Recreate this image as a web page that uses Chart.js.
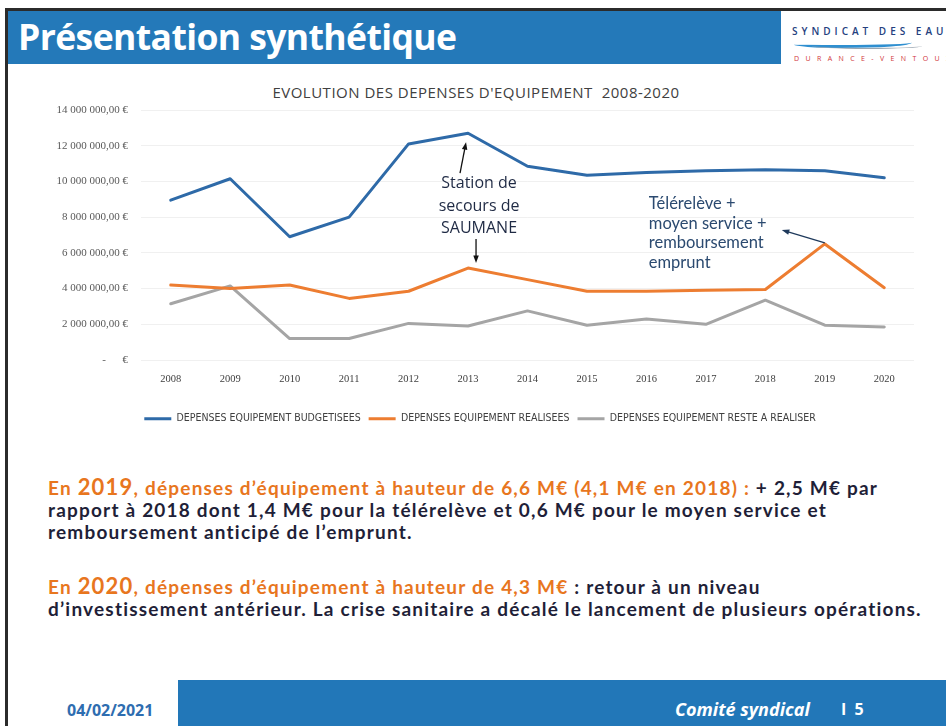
<!DOCTYPE html>
<html lang="fr">
<head>
<meta charset="utf-8">
<script src="https://cdn.jsdelivr.net/npm/chart.js@4.4.1/dist/chart.umd.min.js"></script>
<style>
    html, body { margin: 0; padding: 0; background: #fff; }
    body { width: 946px; height: 726px; position: relative; overflow: hidden; font-family: 'Open Sans', sans-serif; }
    .frame-top { position: absolute; left: 5px; top: 8px; width: 941px; height: 3px; background: #2b2b2b; }
    .frame-left { position: absolute; left: 5px; top: 8px; width: 3px; height: 718px; background: #2b2b2b; }
    .header { position: absolute; left: 8px; top: 11px; width: 773px; height: 53px; background: #2479b9; }
    .header h1 { margin: 0; position: absolute; left: 10px; top: 1px; color: #fff; font-size: 35.5px; font-weight: 700; letter-spacing: -0.6px; }
    .logo { position: absolute; left: 792px; top: 24px; width: 160px; height: 44px; }
    .logo .name { position: absolute; left: 0; top: 0; font-size: 10px; letter-spacing: 4px; color: #24407e; font-weight: 600; white-space: nowrap; }
    .logo .wave1 { position: absolute; left: 2px; top: 15px; width: 118px; height: 6px; border-bottom: 3px solid #2f8fd0; border-radius: 0 0 60% 40%; }
    .logo .wave2 { position: absolute; left: 20px; top: 19px; width: 110px; height: 5px; border-bottom: 1px solid #9aa5b0; border-radius: 0 0 50% 50%; }
    .logo .sub { position: absolute; left: 2px; top: 30px; font-size: 7px; letter-spacing: 6.4px; color: #d0363a; white-space: nowrap; }
    .chart-title { position: absolute; left: 226px; top: 82px; width: 500px; text-align: center; font-size: 15px; letter-spacing: 0.5px; color: #404040; white-space: nowrap; }
    #chartWrap { position: absolute; left: 0; top: 70px; width: 946px; height: 370px; }
    .para { position: absolute; left: 48px; font-family: 'Lato', sans-serif; font-weight: 700; font-size: 19px; letter-spacing: 1.2px; line-height: 22px; color: #1f1f38; white-space: nowrap; }
    .para .o { color: #e8761e; }
    .para .big { font-size: 22px; }
    .footer { position: absolute; left: 178px; top: 680px; width: 768px; height: 46px; background: #2277b8; }
    .date { position: absolute; left: 67px; top: 699px; font-size: 16px; font-weight: 700; color: #2e6db0; }
    .comite { position: absolute; left: 675px; top: 697px; font-size: 18px; font-style: italic; font-weight: 700; color: #fff; white-space: nowrap; }
    .page { position: absolute; left: 841px; top: 698px; font-size: 16px; font-weight: 700; color: #fff; white-space: nowrap; }
</style>
</head>
<body>
<div class="frame-top"></div>
<div class="frame-left"></div>
<div class="header"><h1>Présentation synthétique</h1></div>
<div class="logo">
    <div class="name">SYNDICAT DES EAUX</div>
    <div class="wave1"></div>
    <div class="wave2"></div>
    <div class="sub">DURANCE-VENTOUX</div>
</div>

<div class="chart-title">EVOLUTION DES DEPENSES D'EQUIPEMENT&nbsp; 2008-2020</div>
<div id="chartWrap"><canvas id="depensesChart" width="946" height="370"></canvas></div>

<div class="para" style="top:476px;">
    <span class="o">En <span class="big">2019</span>, dépenses d’équipement à hauteur de 6,6 M€ (4,1 M€ en 2018) :</span> + 2,5 M€ par<br>
    rapport à 2018 dont 1,4 M€ pour la télérelève et 0,6 M€ pour le moyen service et<br>
    remboursement anticipé de l’emprunt.
</div>
<div class="para" style="top:575px;">
    <span class="o">En <span class="big">2020</span>, dépenses d’équipement à hauteur de 4,3 M€</span> : retour à un niveau<br>
    d’investissement antérieur. La crise sanitaire a décalé le lancement de plusieurs opérations.
</div>

<div class="footer"></div>
<div class="date">04/02/2021</div>
<div class="comite">Comité syndical</div>
<div class="page">I&nbsp; 5</div>

<script>
// Chart data (euros)
const years = ['2008', '2009', '2010', '2011', '2012', '2013', '2014', '2015', '2016', '2017', '2018', '2019', '2020'];
const budgetisees = [8950000, 10150000, 6900000, 8000000, 12100000, 12700000, 10850000, 10350000, 10500000, 10600000, 10650000, 10600000, 10200000];
const realisees = [4200000, 4000000, 4200000, 3450000, 3850000, 5150000, 4500000, 3850000, 3850000, 3900000, 3950000, 6500000, 4050000];
const resteARealiser = [3150000, 4150000, 1200000, 1200000, 2050000, 1900000, 2750000, 1950000, 2300000, 2000000, 3350000, 1950000, 1850000];
const seriesLabels = ['DEPENSES EQUIPEMENT BUDGETISEES', 'DEPENSES EQUIPEMENT REALISEES', 'DEPENSES EQUIPEMENT RESTE A REALISER'];
const seriesColors = ['#2e6aa8', '#ed7d31', '#a5a5a5'];
const yMin = 0;
const yMax = 14000000;
const yStep = 2000000;

// Accounting style euro format
function formatEuro(v) {
    if (v === 0) return '-      €';
    const intPart = String(Math.round(v)).replace(/\B(?=(\d{3})+(?!\d))/g, ' ');
    return `${intPart},00 €`;
}

function drawArrow(ctx, x1, y1, x2, y2, color) {
    const angle = Math.atan2(y2 - y1, x2 - x1);
    const head = 8;
    ctx.strokeStyle = color;
    ctx.fillStyle = color;
    ctx.lineWidth = 1.3;
    ctx.beginPath();
    ctx.moveTo(x1, y1);
    ctx.lineTo(x2 - Math.cos(angle) * 4, y2 - Math.sin(angle) * 4);
    ctx.stroke();
    ctx.beginPath();
    ctx.moveTo(x2, y2);
    ctx.lineTo(x2 - head * Math.cos(angle - 0.35), y2 - head * Math.sin(angle - 0.35));
    ctx.lineTo(x2 - head * Math.cos(angle + 0.35), y2 - head * Math.sin(angle + 0.35));
    ctx.closePath();
    ctx.fill();
}

// Callouts pointing at 2013 and 2019
const calloutPlugin = {
    id: 'callouts',
    afterDatasetsDraw(chart) {
        const { ctx, scales: { x, y } } = chart;
        ctx.save();

        const x13 = x.getPixelForValue(5);
        const yBud13 = y.getPixelForValue(budgetisees[5]);
        const yReal13 = y.getPixelForValue(realisees[5]);
        ctx.font = '16px "Open Sans"';
        ctx.fillStyle = '#1f2a44';
        ctx.textAlign = 'center';
        ctx.textBaseline = 'middle';
        ctx.fillText('Station de', x13 + 11, yBud13 + 50);
        ctx.fillText('secours de', x13 + 11, yBud13 + 73);
        ctx.fillText('SAUMANE', x13 + 11, yBud13 + 95);
        drawArrow(ctx, x13 - 8, yBud13 + 40, x13 - 2, yBud13 + 9, '#111');
        drawArrow(ctx, x13 + 8, yReal13 - 29, x13 + 8, yReal13 - 5, '#111');

        const x19 = x.getPixelForValue(11);
        const yReal19 = y.getPixelForValue(realisees[11]);
        ctx.font = '16.5px "Lato"';
        ctx.fillStyle = '#2b4a70';
        ctx.textAlign = 'left';
        const lines = ['Télérelève +', 'moyen service +', 'remboursement', 'emprunt'];
        lines.forEach((t, i) => ctx.fillText(t, x19 - 176, yReal19 - 40 + i * 19.5));
        drawArrow(ctx, x19, yReal19 - 1, x19 - 43, yReal19 - 14, '#1f3a5c');

        ctx.restore();
    }
};

document.addEventListener('DOMContentLoaded', () => {
    const ctx = document.getElementById('depensesChart').getContext('2d');
    const datasets = [budgetisees, realisees, resteARealiser].map((data, i) => ({
        label: seriesLabels[i],
        data: data,
        borderColor: seriesColors[i],
        backgroundColor: seriesColors[i],
        borderWidth: 3,
        pointRadius: 0,
        tension: 0,
        borderCapStyle: 'round',
        borderJoinStyle: 'round'
    }));

    new Chart(ctx, {
        type: 'line',
        data: { labels: years, datasets: datasets },
        options: {
            responsive: false,
            animation: false,
            layout: { padding: { left: 46, right: 32, top: 40, bottom: 6 } },
            plugins: {
                title: { display: false },
                tooltip: { enabled: false },
                legend: {
                    position: 'bottom',
                    labels: {
                        usePointStyle: true,
                        pointStyle: 'line',
                        pointStyleWidth: 27,
                        boxHeight: 10,
                        padding: 8,
                        color: '#404040',
                        font: { family: '"Liberation Sans Narrow", "DejaVu Sans Condensed", sans-serif', size: 10.5 }
                    }
                }
            },
            scales: {
                x: {
                    offset: true,
                    grid: { display: false, drawTicks: false },
                    border: { display: false },
                    ticks: {
                        padding: 13,
                        color: '#404040',
                        maxRotation: 0,
                        font: { family: '"Liberation Serif", serif', size: 10.5 }
                    },
                    afterFit: (scale) => { scale.height = 45.5; }
                },
                y: {
                    min: yMin,
                    max: yMax,
                    grid: { color: 'rgba(0,0,0,0.06)', drawTicks: false },
                    border: { display: false },
                    ticks: {
                        stepSize: yStep,
                        padding: 13,
                        color: '#595959',
                        font: { family: '"Liberation Serif", serif', size: 11 },
                        callback: (v) => formatEuro(v)
                    },
                    afterFit: (scale) => { scale.width = 95; }
                }
            }
        },
        plugins: [calloutPlugin]
    });
});
</script>
</body>
</html>
